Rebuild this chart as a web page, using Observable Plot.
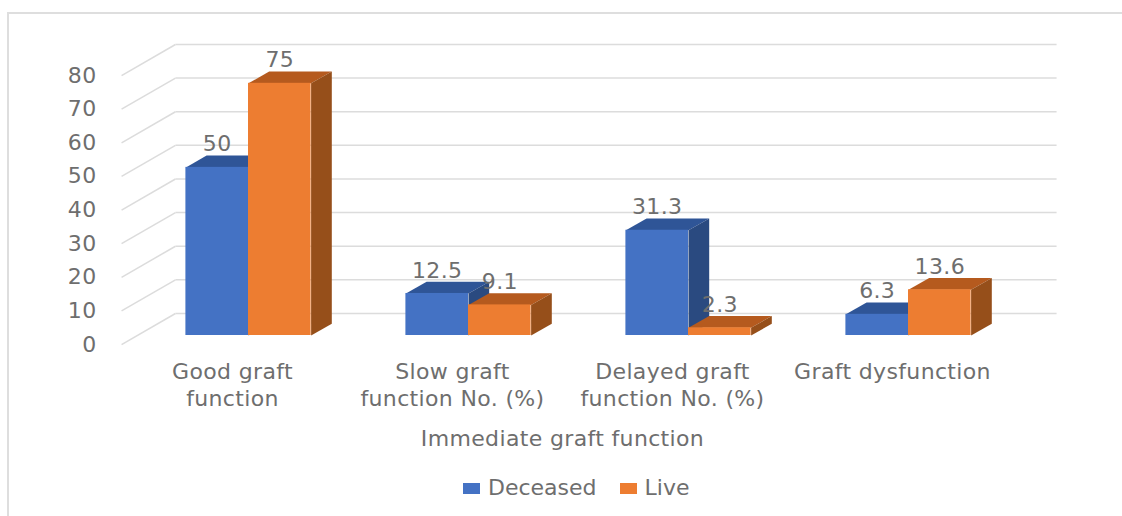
<!DOCTYPE html>
<html>
<head>
<meta charset="utf-8">
<script src="https://cdn.jsdelivr.net/npm/d3@7"></script>
<script src="https://cdn.jsdelivr.net/npm/@observablehq/plot@0.6"></script>
<style>
  html, body { margin: 0; padding: 0; background: #fff; overflow: hidden; width: 1122px; height: 516px; }
  body { position: relative; font-family: "DejaVu Sans", sans-serif; color: #6e6e6e; }
  #border { position: absolute; left: 7px; top: 12px; width: 1130px; height: 520px; border: 2px solid #dedede; }
  #chart { position: absolute; left: 0; top: 0; }
  #legend { position: absolute; left: 463px; top: 476px; display: flex; align-items: center; font-size: 22px; line-height: 24px; }
  #legend i { display: inline-block; width: 17px; height: 11px; margin-right: 8px; }
  #legend i + span { margin-right: 23px; }
</style>
</head>
<body>
<div id="border"></div>
<div id="chart"></div>
<div id="legend"></div>
<script>
// Immediate graft function by donor type, in percent
const categories = ["Good graft\nfunction", "Slow graft\nfunction No. (%)", "Delayed graft\nfunction No. (%)", "Graft dysfunction"];
const deceased = [50, 12.5, 31.3, 6.3];
const live = [75, 9.1, 2.3, 13.6];
const yTicks = [0, 10, 20, 30, 40, 50, 60, 70, 80];
const axisTitle = "Immediate graft function";

const series = [
  {name: "Deceased", values: deceased, front: "#4472c4", top: "#2f5597", side: "#2a4a80", offset: -1},
  {name: "Live", values: live, front: "#ed7d31", top: "#b55a1e", side: "#964f1a", offset: 0}
];

// Oblique projection of the box, in data units of the two scales
const barWidth = 62.6 / 220;
const depthX = 20.7 / 220;
const depthY = 3.5;
const wallLeft = -0.332, wallRight = 3.673, floorLeft = -0.577;
const wallLift = 6.55, floorLift = -2.7;

const bars = series.flatMap(s => s.values.map((v, i) => {
  const x1 = i + s.offset * barWidth;
  return {series: s.name, i, v, x1, x2: x1 + barWidth, s};
}));

const faces = bars.flatMap((b, n) => [
  [[b.x1, b.v], [b.x2, b.v], [b.x2 + depthX, b.v + depthY], [b.x1 + depthX, b.v + depthY]]
    .map(([x, y]) => ({id: `t${n}`, x, y, color: b.s.top})),
  [[b.x2, 0], [b.x2 + depthX, depthY], [b.x2 + depthX, b.v + depthY], [b.x2, b.v]]
    .map(([x, y]) => ({id: `s${n}`, x, y, color: b.s.side}))
].flat());

const gridColor = "#dcdcdc";
const textColor = "#6e6e6e";

const chart = Plot.plot({
  width: 1122,
  height: 465,
  marginLeft: 138,
  marginRight: 104,
  marginTop: 66,
  marginBottom: 130,
  style: {fontFamily: "DejaVu Sans", background: "transparent", overflow: "visible", letterSpacing: "0.35px"},
  x: {domain: [-0.5, 3.5]},
  y: {domain: [0, 80]},
  marks: [
    // Back wall gridlines and their slanted floor-side continuation
    Plot.link(yTicks, {x1: () => wallLeft, x2: () => wallRight, y1: d => d + wallLift, y2: d => d + wallLift, stroke: gridColor, strokeWidth: 1.5}),
    Plot.link(yTicks, {x1: () => floorLeft, x2: () => wallLeft, y1: d => d + floorLift, y2: d => d + wallLift, stroke: gridColor, strokeWidth: 1.5}),
    // Top and side faces of every bar
    Plot.line(faces, {x: "x", y: "y", z: "id", fill: {value: d => d.color, scale: null}, stroke: null, curve: "linear"}),
    // Front faces
    Plot.rect(bars, {x1: "x1", x2: "x2", y1: () => 0, y2: "v", fill: {value: d => d.s.front, scale: null}}),
    // Value labels
    Plot.text(bars, {x: d => (d.x1 + d.x2) / 2, y: "v", text: d => String(d.v), dy: -23, fontSize: 22, fill: textColor, lineAnchor: "middle"}),
    Plot.axisY({ticks: yTicks, tickSize: 0, tickPadding: 42, dy: 9, fontSize: 22, color: textColor, label: null}),
    Plot.axisX({ticks: [0, 1, 2, 3], tickFormat: i => categories[i], tickSize: 0, tickPadding: 24, dx: -16, fontSize: 22, lineHeight: 1.23, color: textColor, label: null}),
    Plot.text([axisTitle], {x: () => 1.5, frameAnchor: "bottom", dx: -16, dy: 103, text: d => d, fontSize: 22, fill: textColor, lineAnchor: "middle"})
  ]
});
document.getElementById("chart").append(chart);

// Legend below the chart
const legend = document.getElementById("legend");
for (const s of series) {
  const swatch = document.createElement("i");
  swatch.style.background = s.front;
  const label = document.createElement("span");
  label.textContent = s.name;
  legend.append(swatch, label);
}
</script>
</body>
</html>
